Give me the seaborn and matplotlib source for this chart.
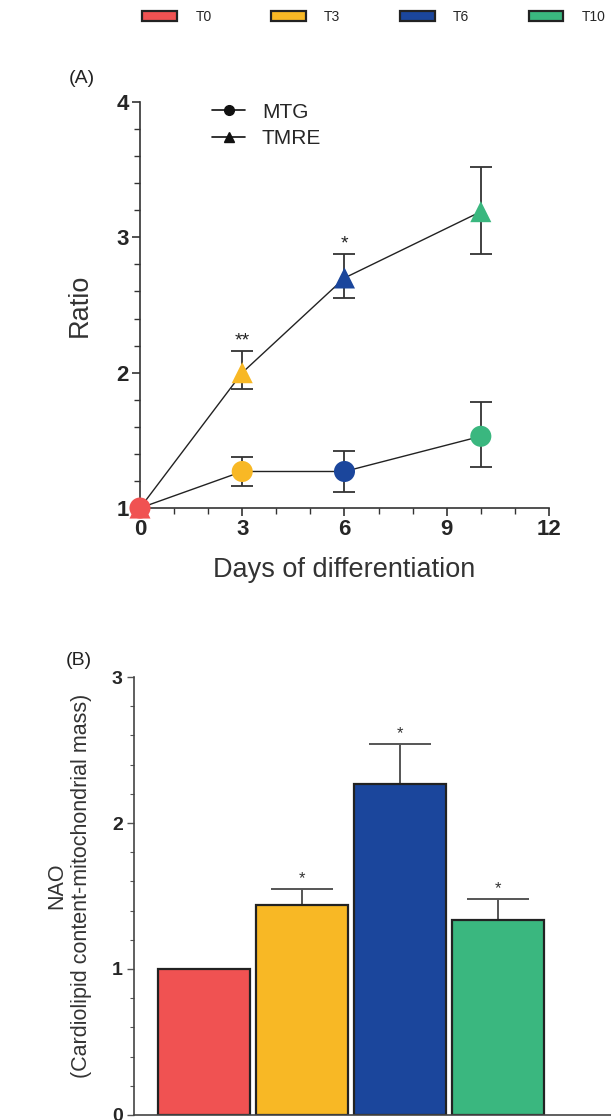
import matplotlib
matplotlib.use("Agg")
import matplotlib.pyplot as plt
from matplotlib.patches import Patch
from matplotlib.lines import Line2D
from matplotlib.ticker import MultipleLocator
import seaborn as sns
import pandas as pd
import numpy as np

sns.set_theme(style="ticks")
plt.rcParams['font.family'] = ['Liberation Sans', 'DejaVu Sans']

# ---- data ----
groups = ["T0", "T3", "T6", "T10"]
days = [0, 3, 6, 10]
colors = ["#F05252", "#F8B825", "#1B469C", "#3AB77F"]

mtg_mean = [1.00, 1.27, 1.27, 1.53]
mtg_err_lo = [0.00, 0.11, 0.15, 0.23]
mtg_err_hi = [0.00, 0.11, 0.15, 0.25]
tmre_mean = [1.00, 2.00, 2.70, 3.19]
tmre_err_lo = [0.00, 0.12, 0.15, 0.31]
tmre_err_hi = [0.00, 0.16, 0.18, 0.33]
tmre_sig = ["", "**", "*", ""]

nao_mean = [1.00, 1.44, 2.27, 1.335]
nao_err = [0.00, 0.11, 0.27, 0.145]
nao_sig = ["", "*", "*", "*"]

fig = plt.figure(figsize=(6.11, 11.2), dpi=100)

# ---- top legend ----
handles = [Patch(facecolor=c, edgecolor="#222222", linewidth=1.6, label=g) for g, c in zip(groups, colors)]
fig.legend(handles=handles, loc="center", bbox_to_anchor=(0.612, 0.985), ncol=4, frameon=False,
           fontsize=10, handlelength=2.5, handleheight=0.8, columnspacing=4.3, handletextpad=1.3)

# ---- panel A ----
axA = fig.add_axes([0.2291, 0.5464, 0.6694, 0.3625])
dfA = pd.DataFrame({"day": days * 2, "ratio": mtg_mean + tmre_mean,
                    "probe": ["MTG"] * 4 + ["TMRE"] * 4, "group": groups * 2})
sns.lineplot(data=dfA, x="day", y="ratio", units="probe", estimator=None, color="#222222",
             linewidth=1.0, ax=axA, legend=False, zorder=2)
axA.errorbar(days[1:], mtg_mean[1:], yerr=[mtg_err_lo[1:], mtg_err_hi[1:]], fmt="none",
             ecolor="#333333", elinewidth=1.3, capsize=8, capthick=1.3, zorder=3)
axA.errorbar(days[1:], tmre_mean[1:], yerr=[tmre_err_lo[1:], tmre_err_hi[1:]], fmt="none",
             ecolor="#333333", elinewidth=1.3, capsize=8, capthick=1.3, zorder=3)
pal = dict(zip(groups, colors))
sns.scatterplot(data=dfA, x="day", y="ratio", hue="group", palette=pal, style="probe",
                markers={"MTG": "o", "TMRE": "^"}, s=230, linewidth=0, ax=axA,
                legend=False, zorder=4, clip_on=False)
for d, m, e, s in zip(days, tmre_mean, tmre_err_hi, tmre_sig):
    if s:
        axA.text(d, m + e + 0.01, s, ha="center", va="bottom", fontsize=14, color="#222222")

axA.set_xlim(0, 12)
axA.set_ylim(1, 4)
axA.xaxis.set_major_locator(MultipleLocator(3))
axA.xaxis.set_minor_locator(MultipleLocator(1))
axA.yaxis.set_major_locator(MultipleLocator(1))
axA.yaxis.set_minor_locator(MultipleLocator(0.2))
axA.tick_params(which="major", length=6, width=1.2, color="#333333", labelsize=16, pad=2)
axA.tick_params(which="minor", length=4, width=1.0, color="#333333")
for lab in axA.get_xticklabels() + axA.get_yticklabels():
    lab.set_fontweight("bold")
sns.despine(ax=axA)
for sp in ["left", "bottom"]:
    axA.spines[sp].set_linewidth(1.2)
    axA.spines[sp].set_color("#333333")
axA.set_xlabel("Days of differentiation", fontsize=19.5, labelpad=12, color="#333333")
axA.set_ylabel("Ratio", fontsize=19.5, labelpad=17, color="#333333")

leg_handles = [Line2D([0], [0], color="#111111", marker="o", markersize=7, linewidth=1.2, label="MTG"),
               Line2D([0], [0], color="#111111", marker="^", markersize=7, linewidth=1.2, label="TMRE")]
axA.legend(handles=leg_handles, loc="upper left", bbox_to_anchor=(0.13, 1.045), frameon=False,
           fontsize=15, handlelength=1.6, labelspacing=0.35)
fig.text(0.112, 0.93, "(A)", fontsize=14, ha="left", va="center", color="#222222")

# ---- panel B ----
axB = fig.add_axes([0.219, 0.0045, 0.781, 0.391])
dfB = pd.DataFrame({"group": groups, "nao": nao_mean})
sns.barplot(data=dfB, x="group", y="nao", hue="group", palette=pal, width=0.94, ax=axB,
            legend=False, edgecolor="#222222", linewidth=1.6, saturation=1, zorder=2)
xs = np.arange(len(groups))
axB.errorbar(xs[1:], nao_mean[1:], yerr=[np.zeros(3), nao_err[1:]], fmt="none", ecolor="#555555",
             elinewidth=1.4, capsize=22, capthick=1.4, zorder=1)
for x, m, e, s in zip(xs, nao_mean, nao_err, nao_sig):
    if s:
        axB.text(x, m + e + 0.02, s, ha="center", va="bottom", fontsize=12, color="#333333")
axB.set_xlim(-0.72, 4.15)
axB.set_ylim(0, 3)
axB.yaxis.set_major_locator(MultipleLocator(1))
axB.yaxis.set_minor_locator(MultipleLocator(0.2))
axB.set_xticks([])
axB.tick_params(axis="y", which="major", length=5, width=1.0, color="#555555", labelsize=14, pad=3)
axB.tick_params(axis="y", which="minor", length=3, width=0.8, color="#555555")
for lab in axB.get_yticklabels():
    lab.set_fontweight("bold")
sns.despine(ax=axB)
for sp in ["left", "bottom"]:
    axB.spines[sp].set_linewidth(1.2)
    axB.spines[sp].set_color("#444444")
axB.set_xlabel("")
axB.set_ylabel("")
fig.text(0.093, 0.209, "NAO", rotation=90, fontsize=15.5, ha="center", va="center", color="#333333")
fig.text(0.134, 0.209, "(Cardiolipid content-mitochondrial mass)", rotation=90, fontsize=15.5,
         ha="center", va="center", color="#333333")
fig.text(0.108, 0.41, "(B)", fontsize=14, ha="left", va="center", color="#222222")

fig.savefig("out.png", dpi=100)
